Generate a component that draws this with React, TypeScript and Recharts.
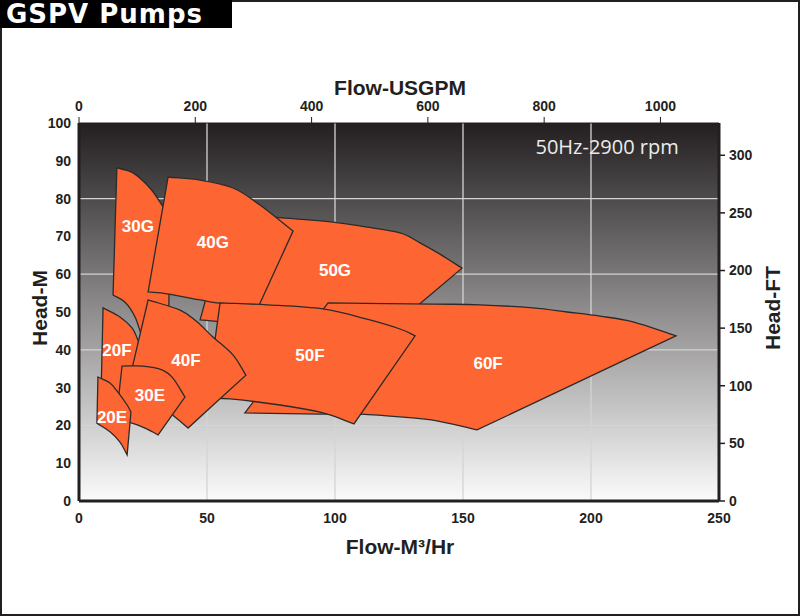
import React from 'react';
import { ComposedChart, Scatter, XAxis, YAxis, ReferenceArea, ReferenceLine } from 'recharts';

// axis ticks
const flowTicks = [0, 50, 100, 150, 200, 250];
const gpmTicks = [0, 200, 400, 600, 800, 1000];
const headTicks = [0, 10, 20, 30, 40, 50, 60, 70, 80, 90, 100];
const ftTicks = [0, 50, 100, 150, 200, 250, 300];
const gridFlow = [50, 100, 150, 200];
const gridHead = [20, 40, 60, 80];

// pump coverage outlines, [flow m3/h, head m], drawn back to front
const pump50G = [[47.3, 47.9], [58.6, 75.7], [79.3, 74.9], [99.2, 73.8], [112, 72.5], [125.4, 70.9], [133.2, 68.3], [141.0, 65.3], [149.6, 61.6], [123.4, 46.6], [86.3, 45.8]];
const pump30G = [[13.3, 54.5], [14.8, 88.1], [21.1, 86.8], [27.7, 82.8], [32.4, 78.3], [35.5, 74.9], [34.8, 33.3], [27.7, 38.6], [24.6, 43.4], [21.9, 48.7], [18.0, 52.6]];
const pump40G = [[27.0, 55.3], [34.8, 85.7], [47.3, 84.9], [60.2, 82.8], [70.7, 78.3], [83.6, 71.4], [69.9, 51.1], [53.9, 52.4], [47.3, 53.2], [34.4, 54.8]];
const pump60F = [[64.8, 23.3], [97.3, 52.4], [138.3, 52.1], [156.6, 51.9], [177.3, 51.1], [190.6, 50.0], [203.5, 48.9], [216.4, 47.4], [233.2, 43.7], [155.5, 18.8], [139.8, 21.2], [126.6, 22.2], [109.8, 23.0], [94.1, 23.0]];
const pump20F = [[9.4, 51.1], [16.0, 48.7], [20.7, 45.8], [22.7, 43.1], [24.6, 39.4], [23.8, 26.7], [8.6, 28.0]];
const pump50F = [[55.1, 52.4], [73.4, 51.9], [95.3, 50.8], [112.5, 48.1], [125.4, 45.5], [131.3, 43.7], [107.4, 20.4], [95.3, 23.3], [78.5, 25.4], [59.0, 27.0], [50.0, 27.2]];
const pump40F = [[27.0, 53.2], [39.5, 50.5], [46.1, 47.4], [52.3, 43.4], [60.2, 38.6], [65.2, 33.3], [42.6, 19.3], [37.5, 22.2], [33.6, 24.1], [18.0, 27.2]];
const pump30E = [[16.8, 35.7], [25.0, 35.7], [32.4, 34.7], [36.7, 32.5], [41.4, 27.5], [30.9, 17.5], [25.8, 19.3], [20.7, 20.6], [14.5, 21.4]];
const pump20E = [[7.4, 32.8], [12.1, 31.2], [15.2, 28.8], [18.8, 25.4], [20.3, 23.5], [18.8, 12.2], [16.0, 15.6], [12.1, 18.3], [7.0, 20.6]];

// which points of each outline are sharp corners (the rest lie on curves)
const pumps = [
  { pts: pump50G, corners: [0, 1, 8, 9] },
  { pts: pump30G, corners: [0, 1, 5, 6] },
  { pts: pump40G, corners: [0, 1, 5, 6] },
  { pts: pump60F, corners: [0, 1, 8, 9] },
  { pts: pump20F, corners: [0, 4, 5, 6] },
  { pts: pump50F, corners: [0, 5, 6, 10] },
  { pts: pump40F, corners: [0, 5, 6, 9] },
  { pts: pump30E, corners: [0, 4, 5, 8] },
  { pts: pump20E, corners: [0, 4, 5, 8] },
];

const labelNames = ['30G', '40G', '50G', '20F', '40F', '50F', '60F', '30E', '20E'];
const labelFlow = [23.0, 52.3, 100, 14.8, 41.8, 90.2, 159.8, 27.7, 12.9];
const labelHead = [72.5, 68.3, 61.1, 39.9, 37.3, 38.6, 36.5, 28.0, 22.0];

const speedNote = [{ x: 206.3, y: 93.9, name: '50Hz-2900 rpm' }];

const labels = labelNames.map((name, i) => ({ name, x: labelFlow[i], y: labelHead[i] }));

const tickStyle = { fill: '#231f20', fontSize: 14, fontWeight: 'bold', fontFamily: 'Liberation Sans, Arial, sans-serif' };
const axisLineStyle = { stroke: '#231f20', strokeWidth: 3 };

// closed outline: straight edges between corners, smooth curves elsewhere
const makePolygon = (corners: number[]) => (props: any) => {
  const pts = props.points || [];
  const n = pts.length;
  if (!n) return <g />;
  const isCorner = (i: number) => corners.includes(i);
  const at = (i: number) => pts[(i + n) % n];
  const tanOut = (i: number) => {
    const p = at(i), nx = at(i + 1), pv = at(i - 1);
    if (isCorner(i)) return { x: nx.x - p.x, y: nx.y - p.y };
    return { x: (nx.x - pv.x) / 2, y: (nx.y - pv.y) / 2 };
  };
  const tanIn = (i: number) => {
    const p = at(i), nx = at(i + 1), pv = at(i - 1);
    if (isCorner(i)) return { x: p.x - pv.x, y: p.y - pv.y };
    return { x: (nx.x - pv.x) / 2, y: (nx.y - pv.y) / 2 };
  };
  let d = `M${pts[0].x},${pts[0].y}`;
  for (let i = 0; i < n; i++) {
    const a = at(i), b = at(i + 1);
    const to = tanOut(i), ti = tanIn((i + 1) % n);
    d += ` C${a.x + to.x / 3},${a.y + to.y / 3} ${b.x - ti.x / 3},${b.y - ti.y / 3} ${b.x},${b.y}`;
  }
  d += ' Z';
  return <path d={d} fill="#fd6632" stroke="#2b2b2b" strokeWidth={1.3} strokeLinejoin="miter" />;
};

const noDot = () => <g />;

const drawLabel = (props: any) => (
  <text x={props.cx} y={props.cy} textAnchor="middle" dominantBaseline="central" fill="#ffffff"
    fontSize={17} fontWeight="bold" fontFamily="Liberation Sans, Arial, sans-serif">
    {props.payload.name}
  </text>
);

const drawNote = (props: any) => (
  <text x={props.cx} y={props.cy} textAnchor="middle" dominantBaseline="central" fill="#ececec"
    fontSize={20} fontFamily="Open Sans, sans-serif">
    {props.payload.name}
  </text>
);

const titleFont = 'Liberation Sans, Arial, sans-serif';
const noData: { gpm: number; ft: number }[] = [];

export default function App() {
  return (
    <div style={{ position: 'absolute', left: 0, top: 0, width: 800, height: 616, background: '#fff', overflow: 'hidden' }}>
      <ComposedChart width={800} height={616} margin={{ top: 93, right: 31, bottom: 85, left: 29 }}>
        <defs>
          <linearGradient id="bg" x1="0" y1="0" x2="0" y2="1">
            <stop offset="0%" stopColor="#231f20" />
            <stop offset="100%" stopColor="#fbfbfb" />
          </linearGradient>
        </defs>
        <XAxis xAxisId="m3" type="number" dataKey="x" domain={[0, 250]} ticks={flowTicks} orientation="bottom"
          height={30} tick={tickStyle} tickLine={false} tickMargin={6} axisLine={axisLineStyle} allowDataOverflow />
        <XAxis xAxisId="gpm" type="number" dataKey="gpm" domain={[0, 1100.7]} ticks={gpmTicks} orientation="top"
          height={30} tick={tickStyle} tickLine={{ stroke: '#231f20' }} tickMargin={6} axisLine={{ stroke: '#231f20' }} allowDataOverflow />
        <YAxis yAxisId="m" type="number" dataKey="y" domain={[0, 100]} ticks={headTicks} width={50}
          tick={tickStyle} tickLine={false} axisLine={axisLineStyle} allowDataOverflow />
        <YAxis yAxisId="ft" type="number" dataKey="ft" orientation="right" domain={[0, 328]} ticks={ftTicks} width={50}
          tick={tickStyle} tickLine={{ stroke: '#231f20', strokeWidth: 1.5 }} tickMargin={4} axisLine={axisLineStyle} allowDataOverflow />
        <ReferenceArea xAxisId="m3" yAxisId="m" x1={0} x2={250} y1={0} y2={100} fill="url(#bg)" fillOpacity={1} stroke="none" />
        {gridFlow.map((v) => (
          <ReferenceLine key={'vx' + v} xAxisId="m3" yAxisId="m" x={v} stroke="#d4d4d4" strokeWidth={1.3} />
        ))}
        {gridHead.map((v) => (
          <ReferenceLine key={'hy' + v} xAxisId="m3" yAxisId="m" y={v} stroke="#d4d4d4" strokeWidth={1.3} />
        ))}
        <Scatter xAxisId="gpm" yAxisId="ft" data={noData} shape={noDot} isAnimationActive={false} />
        {pumps.map((p, i) => (
          <Scatter key={'p' + i} xAxisId="m3" yAxisId="m" data={p.pts.map(([x, y]) => ({ x, y }))}
            line={makePolygon(p.corners)} lineType="joint" shape={noDot} isAnimationActive={false} />
        ))}
        <Scatter xAxisId="m3" yAxisId="m" data={labels} shape={drawLabel} isAnimationActive={false} />
        <Scatter xAxisId="m3" yAxisId="m" data={speedNote} shape={drawNote} isAnimationActive={false} />
      </ComposedChart>

      <div style={{ position: 'absolute', left: 0, top: 0, width: 800, height: 616, boxSizing: 'border-box', border: '2px solid #231f20', pointerEvents: 'none' }} />
      <div style={{ position: 'absolute', left: 0, top: 0, width: 232, height: 28, background: '#000', color: '#fff',
        fontFamily: 'DejaVu Sans, sans-serif', fontWeight: 'bold', fontSize: 26, lineHeight: '29px', paddingLeft: 6,
        letterSpacing: 1, boxSizing: 'border-box', whiteSpace: 'nowrap' }}>
        GSPV Pumps
      </div>
      <div style={{ position: 'absolute', left: 250, width: 300, top: 78, textAlign: 'center', fontFamily: titleFont, fontWeight: 'bold', fontSize: 21, lineHeight: '20px', color: '#231f20' }}>
        Flow-USGPM
      </div>
      <div style={{ position: 'absolute', left: 250, width: 300, top: 537, textAlign: 'center', fontFamily: titleFont, fontWeight: 'bold', fontSize: 21, lineHeight: '20px', color: '#231f20' }}>
        Flow-M³/Hr
      </div>
      <div style={{ position: 'absolute', left: 40, top: 308, width: 0, height: 0 }}>
        <div style={{ position: 'absolute', left: -100, top: -13, width: 200, textAlign: 'center', transform: 'rotate(-90deg)',
          fontFamily: titleFont, fontWeight: 'bold', fontSize: 21, lineHeight: '26px', color: '#231f20' }}>
          Head-M
        </div>
      </div>
      <div style={{ position: 'absolute', left: 773, top: 308, width: 0, height: 0 }}>
        <div style={{ position: 'absolute', left: -100, top: -13, width: 200, textAlign: 'center', transform: 'rotate(-90deg)',
          fontFamily: titleFont, fontWeight: 'bold', fontSize: 21, lineHeight: '26px', color: '#231f20' }}>
          Head-FT
        </div>
      </div>
    </div>
  );
}
